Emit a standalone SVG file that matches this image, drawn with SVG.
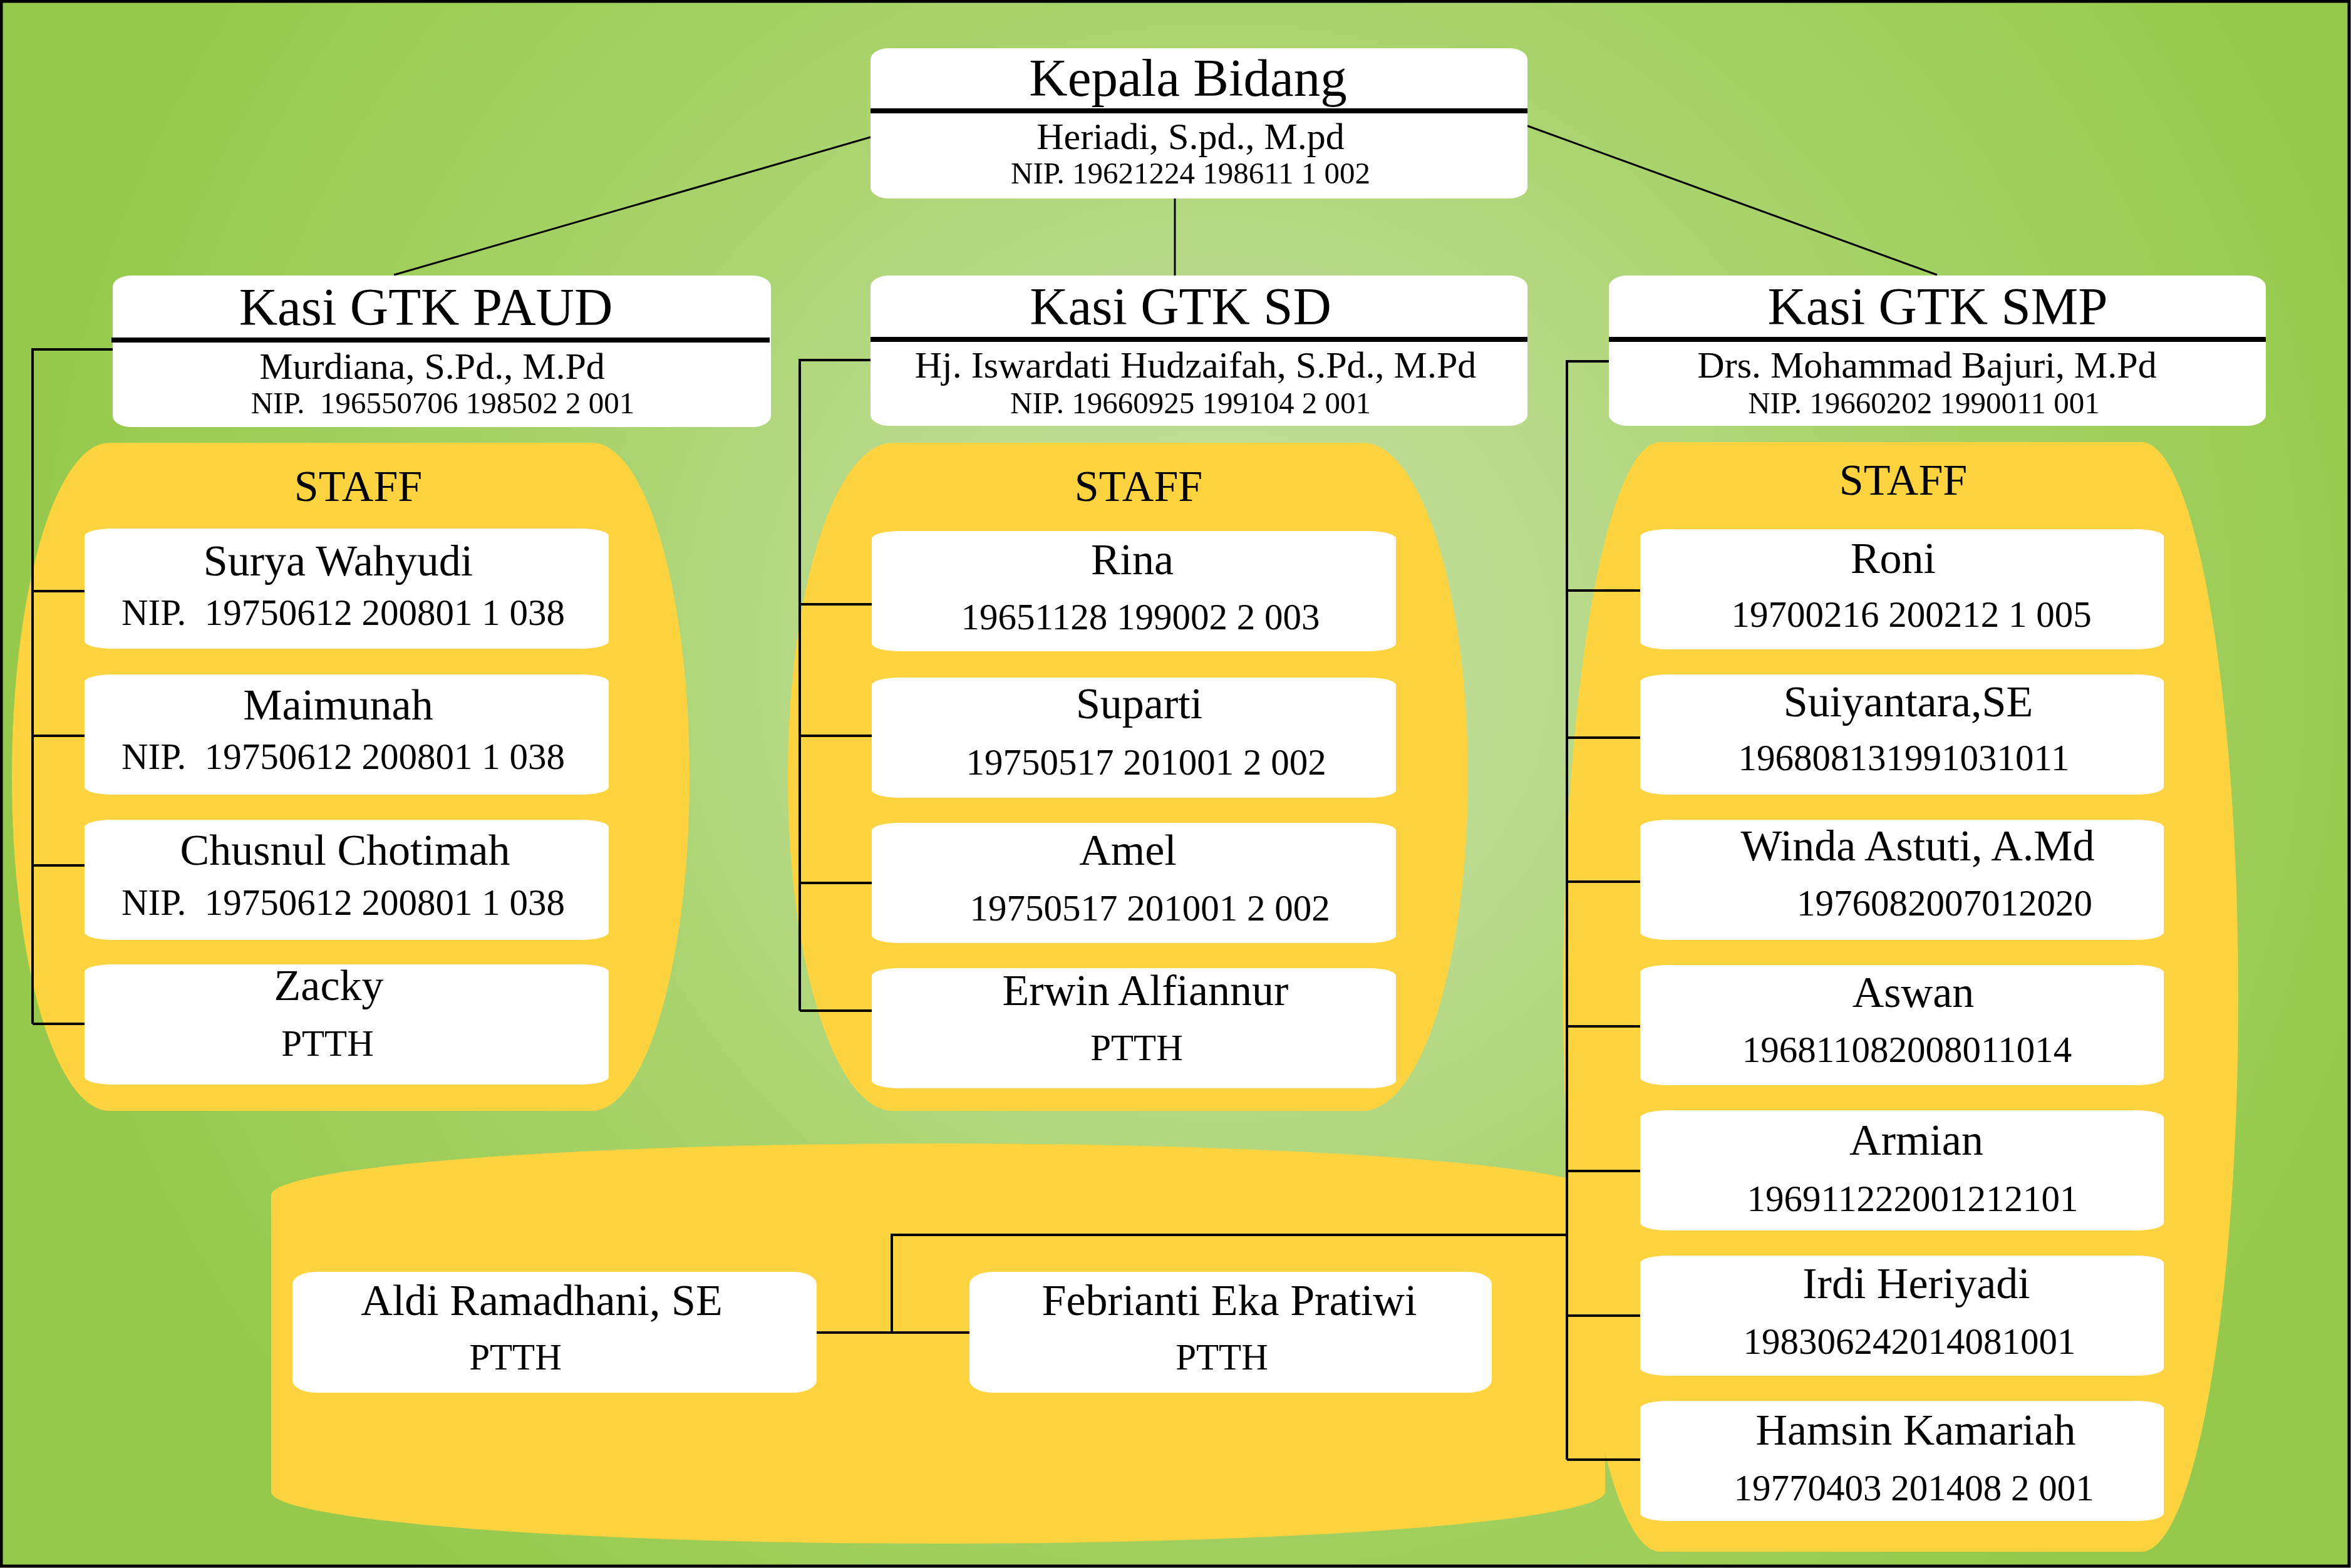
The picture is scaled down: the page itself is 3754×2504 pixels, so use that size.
<svg xmlns="http://www.w3.org/2000/svg" width="3754" height="2504" viewBox="0 0 3754 2504">
<defs>
<radialGradient id="bgGrad" gradientUnits="userSpaceOnUse" cx="1950" cy="1050" r="1950">
<stop offset="0" stop-color="#c6e1a3"/>
<stop offset="0.3" stop-color="#b9da8b"/>
<stop offset="0.55" stop-color="#a8d36b"/>
<stop offset="1" stop-color="#96c94b"/>
</radialGradient>
<style>
.yl{fill:#FDD33F}
.wb{fill:#ffffff}
.bar{fill:#000000}
.ln{stroke:#000000;stroke-width:4;fill:none}
.ln3{stroke:#000000;stroke-width:3;fill:none}
text{font-family:"Liberation Serif","Times New Roman",serif;fill:#000000;text-anchor:middle}
.h1{font-size:85px}
.h2{font-size:60px}
.h3{font-size:49px}
.st{font-size:70px}
.nm{font-size:70px}
.nu{font-size:59px}
</style>
</defs>
<rect x="2" y="2" width="3749" height="2499" fill="url(#bgGrad)" stroke="#000000" stroke-width="5"/>

<g id="staff-areas">
<rect class="yl" x="19" y="707" width="1082" height="1067" rx="156" ry="533"/>
<rect class="yl" x="1258" y="707" width="1086" height="1067" rx="168" ry="533"/>
<rect class="yl" x="433" y="1826" width="2130" height="639" rx="1065" ry="83"/>
<rect class="yl" x="2496" y="706" width="1078" height="1772" rx="155" ry="886"/>
</g>

<g id="connectors">
<path class="ln3" d="M1390 219 L629 439"/>
<path class="ln3" d="M2439 201 L3093 439"/>
<path class="ln3" d="M1876 317 V440"/>
<path class="ln" d="M180 558 H52 V1635 M52 944 H135 M52 1175 H135 M52 1382 H135 M52 1635 H135"/>
<path class="ln" d="M1390 575 H1277 V1614 M1277 965 H1392 M1277 1175 H1392 M1277 1410 H1392 M1277 1614 H1392"/>
<path class="ln" d="M2569 577 H2502 V2331 M2502 943 H2619 M2502 1178 H2619 M2502 1408 H2619 M2502 1639 H2619 M2502 1870 H2619 M2502 2101 H2619 M2502 2331 H2619"/>
<path class="ln" d="M2502 1972 H1424 V2128 M1304 2128 H1548"/>
</g>

<g id="kepala-bidang">
<rect class="wb" x="1390" y="77" width="1049" height="240" rx="30" ry="18"/>
<rect class="bar" x="1390" y="173" width="1049" height="8"/>
<text class="h1" x="1897" y="153">Kepala Bidang</text>
<text class="h2" x="1901" y="238">Heriadi, S.pd., M.pd</text>
<text class="h3" x="1901" y="293">NIP. 19621224 198611 1 002</text>
</g>

<g id="kasi-paud">
<rect class="wb" x="180" y="440" width="1051" height="242" rx="30" ry="18"/>
<rect class="bar" x="178" y="539" width="1051" height="8"/>
<text class="h1" x="680" y="519">Kasi GTK PAUD</text>
<text class="h2" x="690" y="605">Murdiana, S.Pd., M.Pd</text>
<text class="h3" x="707" y="660">NIP.&#160; 196550706 198502 2 001</text>
</g>

<g id="kasi-sd">
<rect class="wb" x="1390" y="440" width="1049" height="240" rx="30" ry="18"/>
<rect class="bar" x="1390" y="538" width="1049" height="8"/>
<text class="h1" x="1885" y="518">Kasi GTK SD</text>
<text class="h2" x="1909" y="603">Hj. Iswardati Hudzaifah, S.Pd., M.Pd</text>
<text class="h3" x="1901" y="660">NIP. 19660925 199104 2 001</text>
</g>

<g id="kasi-smp">
<rect class="wb" x="2569" y="440" width="1049" height="240" rx="30" ry="18"/>
<rect class="bar" x="2569" y="538" width="1049" height="8"/>
<text class="h1" x="3094" y="518">Kasi GTK SMP</text>
<text class="h2" x="3077" y="603">Drs. Mohammad Bajuri, M.Pd</text>
<text class="h3" x="3072" y="660">NIP. 19660202 1990011 001</text>
</g>

<g id="staff-paud-label"><text class="st" x="572" y="800">STAFF</text></g>
<g id="staff-sd-label"><text class="st" x="1818" y="800">STAFF</text></g>
<g id="staff-smp-label"><text class="st" x="3039" y="790">STAFF</text></g>

<g id="paud-surya">
<rect class="wb" x="135" y="844" width="837" height="192" rx="45" ry="12"/>
<text class="nm" x="540" y="919">Surya Wahyudi</text>
<text class="nu" x="548" y="998">NIP.&#160; 19750612 200801 1 038</text>
</g>
<g id="paud-maimunah">
<rect class="wb" x="135" y="1077" width="837" height="192" rx="45" ry="12"/>
<text class="nm" x="540" y="1149">Maimunah</text>
<text class="nu" x="548" y="1228">NIP.&#160; 19750612 200801 1 038</text>
</g>
<g id="paud-chusnul">
<rect class="wb" x="135" y="1309" width="837" height="192" rx="45" ry="12"/>
<text class="nm" x="551" y="1381">Chusnul Chotimah</text>
<text class="nu" x="548" y="1461">NIP.&#160; 19750612 200801 1 038</text>
</g>
<g id="paud-zacky">
<rect class="wb" x="135" y="1540" width="837" height="192" rx="45" ry="12"/>
<text class="nm" x="525" y="1597">Zacky</text>
<text class="nu" x="523" y="1686">PTTH</text>
</g>

<g id="sd-rina">
<rect class="wb" x="1392" y="848" width="837" height="192" rx="45" ry="12"/>
<text class="nm" x="1808" y="917">Rina</text>
<text class="nu" x="1821" y="1005">19651128 199002 2 003</text>
</g>
<g id="sd-suparti">
<rect class="wb" x="1392" y="1082" width="837" height="192" rx="45" ry="12"/>
<text class="nm" x="1819" y="1147">Suparti</text>
<text class="nu" x="1830" y="1237">19750517 201001 2 002</text>
</g>
<g id="sd-amel">
<rect class="wb" x="1392" y="1314" width="837" height="192" rx="45" ry="12"/>
<text class="nm" x="1801" y="1381">Amel</text>
<text class="nu" x="1836" y="1470">19750517 201001 2 002</text>
</g>
<g id="sd-erwin">
<rect class="wb" x="1392" y="1546" width="837" height="192" rx="45" ry="12"/>
<text class="nm" x="1829" y="1605">Erwin Alfiannur</text>
<text class="nu" x="1815" y="1693">PTTH</text>
</g>

<g id="smp-roni">
<rect class="wb" x="2619" y="845" width="836" height="192" rx="45" ry="12"/>
<text class="nm" x="3023" y="915">Roni</text>
<text class="nu" x="3052" y="1001">19700216 200212 1 005</text>
</g>
<g id="smp-suiyantara">
<rect class="wb" x="2619" y="1077" width="836" height="192" rx="45" ry="12"/>
<text class="nm" x="3047" y="1144">Suiyantara,SE</text>
<text class="nu" x="3040" y="1230">196808131991031011</text>
</g>
<g id="smp-winda">
<rect class="wb" x="2619" y="1309" width="836" height="192" rx="45" ry="12"/>
<text class="nm" x="3062" y="1374">Winda Astuti, A.Md</text>
<text class="nu" x="3105" y="1462">1976082007012020</text>
</g>
<g id="smp-aswan">
<rect class="wb" x="2619" y="1541" width="836" height="192" rx="45" ry="12"/>
<text class="nm" x="3055" y="1608">Aswan</text>
<text class="nu" x="3045" y="1696">196811082008011014</text>
</g>
<g id="smp-armian">
<rect class="wb" x="2619" y="1773" width="836" height="192" rx="45" ry="12"/>
<text class="nm" x="3060" y="1844">Armian</text>
<text class="nu" x="3054" y="1934">196911222001212101</text>
</g>
<g id="smp-irdi">
<rect class="wb" x="2619" y="2005" width="836" height="192" rx="45" ry="12"/>
<text class="nm" x="3060" y="2073">Irdi Heriyadi</text>
<text class="nu" x="3049" y="2162">198306242014081001</text>
</g>
<g id="smp-hamsin">
<rect class="wb" x="2619" y="2237" width="836" height="192" rx="45" ry="12"/>
<text class="nm" x="3059" y="2307">Hamsin Kamariah</text>
<text class="nu" x="3056" y="2396">19770403 201408 2 001</text>
</g>

<g id="aldi">
<rect class="wb" x="467" y="2031" width="837" height="193" rx="38" ry="20"/>
<text class="nm" x="865" y="2100">Aldi Ramadhani, SE</text>
<text class="nu" x="823" y="2187">PTTH</text>
</g>
<g id="febrianti">
<rect class="wb" x="1548" y="2031" width="834" height="193" rx="38" ry="20"/>
<text class="nm" x="1963" y="2100">Febrianti Eka Pratiwi</text>
<text class="nu" x="1951" y="2187">PTTH</text>
</g>
</svg>
